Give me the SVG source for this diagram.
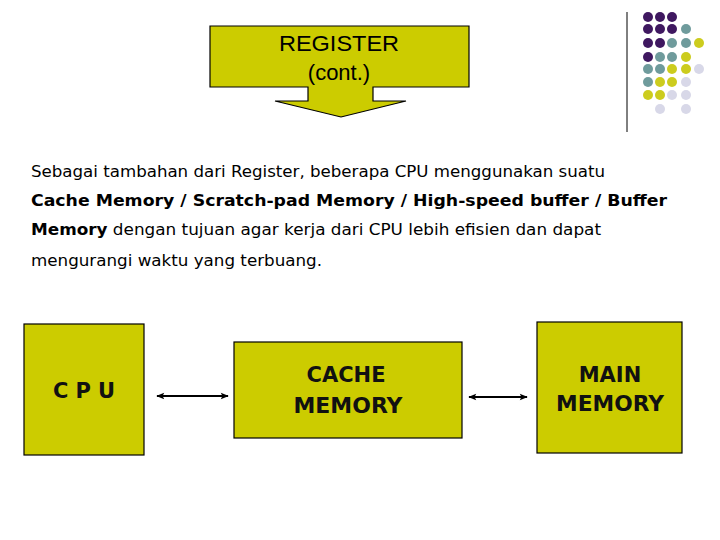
<svg xmlns="http://www.w3.org/2000/svg" width="720" height="540" viewBox="0 0 720 540">
<style>
.box{fill:#cccc00;stroke:#000;stroke-width:1.2}
.lbl{font-family:"DejaVu Sans",Verdana,sans-serif;font-weight:bold;font-size:21px;fill:#111;text-anchor:middle}
.txt{font-family:"DejaVu Sans",Verdana,sans-serif;font-size:16px;fill:#000}
.b{font-weight:bold}
.conn{stroke:#000;stroke-width:2;fill:none;marker-start:url(#ah);marker-end:url(#ah)}
.p{fill:#3f1860}.t{fill:#6f9b9c}.y{fill:#cccc1e}.l{fill:#d8d8e8}
</style>
<defs>
<marker id="ah" viewBox="0 0 10 10" refX="9" refY="5" markerWidth="9" markerHeight="8" markerUnits="userSpaceOnUse" orient="auto-start-reverse">
<path d="M0,1 L10,5 L0,9 L2,5 Z" fill="#000"/>
</marker>
</defs>
<rect width="720" height="540" fill="#fff"/>
<g id="title">
<polygon class="box" points="210,26 469,26 469,87 373,87 373,101 406,101 341,117 275,101 308,101 308,87 210,87"/>
<text x="339" y="51" font-family="Liberation Sans,Arial,sans-serif" font-size="22" text-anchor="middle" fill="#000" textLength="120" lengthAdjust="spacingAndGlyphs">REGISTER</text>
<text x="339" y="80" font-family="Liberation Sans,Arial,sans-serif" font-size="22" text-anchor="middle" fill="#000">(cont.)</text>
</g>
<g id="decoration">
<line x1="627" y1="12" x2="627" y2="132" stroke="#000" stroke-width="1"/>
<g>
<circle class="p" cx="648" cy="17" r="5"/><circle class="p" cx="660" cy="17" r="5"/><circle class="p" cx="672" cy="17" r="5"/>
<circle class="p" cx="648" cy="29" r="5"/><circle class="p" cx="660" cy="29" r="5"/><circle class="p" cx="672" cy="29" r="5"/><circle class="t" cx="686" cy="29" r="5"/>
<circle class="p" cx="648" cy="43" r="5"/><circle class="p" cx="660" cy="43" r="5"/><circle class="t" cx="672" cy="43" r="5"/><circle class="t" cx="686" cy="43" r="5"/><circle class="y" cx="699" cy="43" r="5"/>
<circle class="p" cx="648" cy="57" r="5"/><circle class="t" cx="660" cy="57" r="5"/><circle class="t" cx="672" cy="57" r="5"/><circle class="y" cx="686" cy="57" r="5"/>
<circle class="t" cx="648" cy="69" r="5"/><circle class="t" cx="660" cy="69" r="5"/><circle class="y" cx="672" cy="69" r="5"/><circle class="y" cx="686" cy="69" r="5"/><circle class="l" cx="699" cy="69" r="5"/>
<circle class="t" cx="648" cy="82" r="5"/><circle class="y" cx="660" cy="82" r="5"/><circle class="y" cx="672" cy="82" r="5"/><circle class="l" cx="686" cy="82" r="5"/>
<circle class="y" cx="648" cy="95" r="5"/><circle class="y" cx="660" cy="95" r="5"/><circle class="l" cx="672" cy="95" r="5"/><circle class="l" cx="686" cy="95" r="5"/>
<circle class="l" cx="660" cy="109" r="5"/><circle class="l" cx="686" cy="109" r="5"/>
</g>
</g>
<g id="paragraph">
<text class="txt" x="31" y="177" textLength="574" lengthAdjust="spacingAndGlyphs">Sebagai tambahan dari Register, beberapa CPU menggunakan suatu</text>
<text class="txt b" x="31" y="206" textLength="636" lengthAdjust="spacingAndGlyphs">Cache Memory / Scratch-pad Memory / High-speed buffer / Buffer</text>
<text class="txt" x="31" y="235" textLength="570" lengthAdjust="spacingAndGlyphs"><tspan class="b">Memory</tspan> dengan tujuan agar kerja dari CPU lebih efisien dan dapat</text>
<text class="txt" x="31" y="266" textLength="291" lengthAdjust="spacingAndGlyphs">mengurangi waktu yang terbuang.</text>
</g>
<g id="cpu">
<rect class="box" x="24" y="324" width="120" height="131"/>
<text class="lbl" x="84" y="398" font-size="23" textLength="62" lengthAdjust="spacing">C P U</text>
</g>
<g id="cache">
<rect class="box" x="234" y="342" width="228" height="96"/>
<text class="lbl" x="346" y="382">CACHE</text>
<text class="lbl" x="348" y="413" textLength="109" lengthAdjust="spacingAndGlyphs">MEMORY</text>
</g>
<g id="main">
<rect class="box" x="537" y="322" width="145" height="131"/>
<text class="lbl" x="610" y="382">MAIN</text>
<text class="lbl" x="610" y="411" textLength="108" lengthAdjust="spacingAndGlyphs">MEMORY</text>
</g>
<g id="connectors">
<line class="conn" x1="157" y1="396" x2="228" y2="396"/>
<line class="conn" x1="469" y1="397" x2="527" y2="397"/>
</g>
</svg>
